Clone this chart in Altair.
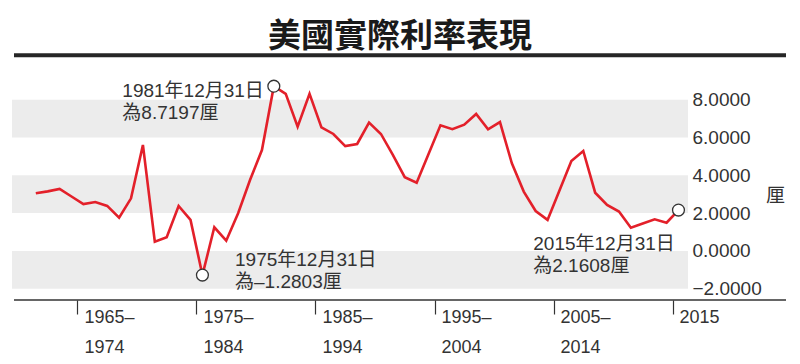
import altair as alt
import pandas as pd

# ---------------- data ----------------
years = list(range(1961, 2016))
rates = [
    3.05, 3.15, 3.28, 2.88, 2.48, 2.59, 2.38, 1.76, 2.78, 5.61,   # 1961-1970
    0.49, 0.72, 2.38, 1.64, -1.2803, 1.25, 0.54, 1.99, 3.75, 5.34,  # 1971-1980
    8.7197, 8.31, 6.57, 8.31, 6.54, 6.19, 5.55, 5.66, 6.79, 6.19,  # 1981-1990
    5.08, 3.90, 3.61, 5.13, 6.65, 6.44, 6.68, 7.25, 6.44, 6.82,   # 1991-2000
    4.64, 3.14, 2.11, 1.64, 3.20, 4.76, 5.29, 3.08, 2.43, 2.08,   # 2001-2010
    1.23, 1.45, 1.67, 1.49, 2.1608,                               # 2011-2015
]

band_lo = [6, 2, -2]
band_hi = [8, 4, 0]

y_ticks = [-2, 0, 2, 4, 6, 8]

tick_years = [1964.5, 1974.5, 1984.5, 1994.5, 2004.5, 2014.5]
period_labels = ["1965–\n1974", "1975–\n1984", "1985–\n1994",
                 "1995–\n2004", "2005–\n2014", "2015"]

ann_years = [1981, 1975, 2015]
ann_values = [8.7197, -1.2803, 2.1608]
ann_labels = ["1981年12月31日\n為8.7197厘",
              "1975年12月31日\n為–1.2803厘",
              "2015年12月31日\n為2.1608厘"]

title_text = "美國實際利率表現"
unit_text = "厘"

# ---------------- styles ----------------
TXT = "'Liberation Sans', 'Noto Sans CJK TC', sans-serif"
CJK = "'Noto Sans CJK TC', sans-serif"
GREY = "#333333"
RED = "#e3202a"
BAND = "#ececec"
W, H = 676, 238

line_df = pd.DataFrame({"year": years, "rate": rates})
band_df = pd.DataFrame({"lo": band_lo, "hi": band_hi})
ann_df = pd.DataFrame({"year": ann_years, "val": ann_values, "label": ann_labels})
period_df = pd.DataFrame({"tick": tick_years, "label": period_labels})
one = pd.DataFrame({"k": [0]})

xs = alt.Scale(domain=[1959, 2015.8], nice=False, zero=False)
ys = alt.Scale(domain=[-2.6, 10], nice=False, zero=False)

x_axis = alt.Axis(values=tick_years, labels=False, domain=False, grid=False,
                  ticks=True, tickSize=14, tickColor=GREY, tickWidth=1.2,
                  title=None)
y_axis = alt.Axis(orient="right", values=y_ticks, format=".4f", domain=False,
                  ticks=False, grid=False, labelPadding=4, labelFont=TXT,
                  labelFontSize=19, labelColor=GREY, title=unit_text,
                  titleAngle=0, titleX=87, titleY=133, titleAlign="center",
                  titleBaseline="middle", titleFont=CJK, titleFontSize=19,
                  titleFontWeight="normal", titleColor=GREY)

bands = alt.Chart(band_df).mark_rect(color=BAND).encode(
    y=alt.Y("lo:Q", scale=ys, axis=y_axis),
    y2="hi:Q",
)

line = alt.Chart(line_df).mark_line(color=RED, strokeWidth=2.6).encode(
    x=alt.X("year:Q", scale=xs, axis=x_axis),
    y=alt.Y("rate:Q", scale=ys, axis=y_axis),
)

circles = alt.Chart(ann_df).mark_point(
    shape="circle", filled=True, fill="white", stroke=GREY,
    strokeWidth=1.3, size=141, opacity=1,
).encode(
    x=alt.X("year:Q", scale=xs, axis=x_axis),
    y=alt.Y("val:Q", scale=ys, axis=y_axis),
)

ann_offsets = [(-151.5, 10.6), (32.6, -9.3), (-145.2, 39.7)]
ann_layers = []
for i, (dx, dy) in enumerate(ann_offsets):
    ann_layers.append(
        alt.Chart(ann_df.iloc[[i]]).mark_text(
            align="left", baseline="alphabetic", dx=dx, dy=dy,
            lineBreak="\n", lineHeight=22, font=TXT, fontSize=19, color=GREY,
        ).encode(
            x=alt.X("year:Q", scale=xs, axis=x_axis),
            y=alt.Y("val:Q", scale=ys, axis=y_axis),
            text="label:N",
        )
    )

period_text = alt.Chart(period_df).mark_text(
    align="left", baseline="alphabetic", dx=7, lineBreak="\n",
    lineHeight=29.5, font=TXT, fontSize=18, color=GREY,
).encode(
    x=alt.X("tick:Q", scale=xs, axis=x_axis),
    y=alt.value(261),
    text="label:N",
)

axis_rule = alt.Chart(one).mark_rule(color=GREY, strokeWidth=1.3).encode(
    x=alt.value(2), x2=alt.value(774), y=alt.value(H)
)

title_rule = alt.Chart(one).mark_rule(color="#262626", strokeWidth=4).encode(
    x=alt.value(2), x2=alt.value(774), y=alt.value(-6.7)
)

title = alt.Chart(one).mark_text(
    align="center", baseline="alphabetic", font=CJK, fontSize=33,
    fontWeight="bold", color="#1a1a1a",
).encode(
    x=alt.value(388), y=alt.value(-15.4), text=alt.value(title_text)
)

chart = alt.layer(
    bands, line, circles, *ann_layers, period_text, axis_rule, title_rule, title
).properties(
    width=W, height=H,
    autosize=alt.AutoSizeParams(type="none"),
    padding={"left": 4, "top": 54, "right": 104, "bottom": 56},
).configure_view(stroke=None)

chart.save("out.html", embed_options={"renderer": "svg", "actions": False})
